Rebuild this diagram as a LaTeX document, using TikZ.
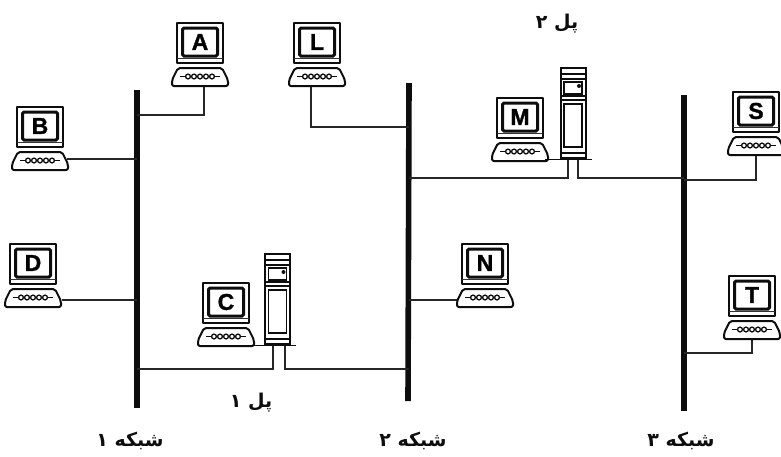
\documentclass[tikz,border=0pt]{standalone}
\usepackage{fontspec}
\TeXXeTstate=1
\setsansfont{Liberation Sans}
\newfontfamily\letterfont[FakeBold=1.2]{Liberation Sans Bold}
\newfontfamily\arabicfont[Script=Arabic]{DejaVu Sans}
\tikzset{
  wire/.style={line width=1.1pt,black!85},
  busline/.style={line width=5.6pt,black!95},
  letterlabel/.style={font=\letterfont\fontsize{23}{23}\selectfont,inner sep=0pt,text=black},
  farsi/.style={font=\arabicfont\bfseries\fontsize{19}{19}\selectfont,inner sep=0pt,text=black!95},
  outline/.style={line width=2pt,black!95,line join=round},
}
\newcommand{\computer}[3]{%
  \begin{scope}[shift={(#2)}]
    \draw[outline] (-23,-20) rectangle (23,20);
    \draw[line width=1pt,black!80] (-23,15.5) -- (23,15.5);
    \draw[line width=3pt,black!95,fill=white,rounded corners=1.5pt] (-17.5,-15) rectangle (17.5,13);
    \draw[outline,fill=white,rounded corners=2pt] (-22,25) -- (22,25) -- (28,37) -- (28,43) -- (-28,43) -- (-28,37) -- cycle;
    \draw[line width=1.5pt,black!95] (-20,33.5) -- (-15,33.5);
    \draw[line width=1.5pt,black!95] (15,33.5) -- (20,33.5);
    \foreach \i in {-12,-6,0,6,12}{\draw[line width=1.3pt,black!95,fill=white] (\i,33.5) circle (2.4);}
    \node[letterlabel] (#1) at (0,-1) {#3};
  \end{scope}}
\newcommand{\server}[2]{%
  \begin{scope}[shift={(#2)}]
    \node[minimum width=25pt,minimum height=90pt,inner sep=0pt,outer sep=0pt,draw,line width=2pt,black!95,fill=white] (#1) at (0,45) {};
    \draw[line width=1.3pt,black!95] (-12.5,6) -- (12.5,6) (-12.5,11) -- (12.5,11);
    \draw[line width=1.6pt,black!95] (-12.5,28) -- (12.5,28) (-12.5,32) -- (12.5,32);
    \draw[line width=1.3pt,black!95] (-9,14) rectangle (9,26);
    \fill[black!95] (6,18) circle (2);
    \draw[line width=1.4pt,black!95] (-9,36) rectangle (9,79);
    \draw[line width=1.3pt,black!95] (-12.5,85) -- (12.5,85);
  \end{scope}}
\begin{document}
\begin{tikzpicture}[x=1pt,y=-1pt]
\useasboundingbox (0,0) rectangle (781,456);
% buses
\coordinate (b1t) at (137,90); \coordinate (b1b) at (137,408);
\coordinate (b2t) at (409,83); \coordinate (b2b) at (408,401);
\coordinate (b3t) at (684,95); \coordinate (b3b) at (684,411);
\draw[busline] (b1t) -- (b1b);
\draw[busline] (b2t) -- (b2b);
\draw[busline] (b3t) -- (b3b);
% junctions
\coordinate (jA) at (137,115); \coordinate (jB) at (137,159);
\coordinate (jD) at (137,300); \coordinate (jC) at (137,369);
\coordinate (jL) at (409,127); \coordinate (jCr) at (409,369);
\coordinate (jN) at (409,300); \coordinate (jM) at (409,178);
\coordinate (jMr) at (684,178); \coordinate (jS) at (684,180);
\coordinate (jT) at (684,353);
% ports
\coordinate (pA) at (204,87); \coordinate (pL) at (311,87);
\coordinate (pB) at (67,159); \coordinate (pD) at (62,300);
\coordinate (pN) at (460,300); \coordinate (pS) at (756,155);
\coordinate (pT) at (752,339);
\coordinate (pC1) at (273,346); \coordinate (pC2) at (285,346);
\coordinate (pM1) at (568,160); \coordinate (pM2) at (578,160);
% wires
\draw[wire] (pA) |- (jA);
\draw[wire] (pB) -- (jB);
\draw[wire] (pD) -- (jD);
\draw[wire] (pL) |- (jL);
\draw[wire] (pN) -- (jN);
\draw[wire] (pS) |- (jS);
\draw[wire] (pT) |- (jT);
\draw[wire] (pC1) |- (jC);
\draw[wire] (pC2) |- (jCr);
\draw[wire] (pM1) |- (jM);
\draw[wire] (pM2) |- (jMr);
% computers
\computer{A}{200,43}{A}
\computer{L}{317,43}{L}
\computer{B}{40,127}{B}
\computer{D}{33,264}{D}
\computer{C}{226,303}{C}
\computer{N}{485,264}{N}
\computer{M}{520,118}{M}
\computer{S}{756,112}{S}
\computer{T}{752,296}{T}
% bridges
\server{srvC}{277.5,254}
\server{srvM}{573,68}
\coordinate (sC1) at (250,345.5); \coordinate (sC2) at (296,345.5);
\draw[line width=1.4pt,black!95] (sC1) -- (sC2);
\coordinate (sM1) at (545,159.5); \coordinate (sM2) at (592,159.5);
\draw[line width=1.4pt,black!95] (sM1) -- (sM2);
% labels
\node[farsi] (n1) at (130,441) {\beginR شبکه ۱\endR};
\node[farsi] (n2) at (413,441) {\beginR شبکه ۲\endR};
\node[farsi] (n3) at (681,441) {\beginR شبکه ۳\endR};
\node[farsi] (br1) at (251,403) {\beginR پل ۱\endR};
\node[farsi] (br2) at (557,24) {\beginR پل ۲\endR};
\end{tikzpicture}
\end{document}
